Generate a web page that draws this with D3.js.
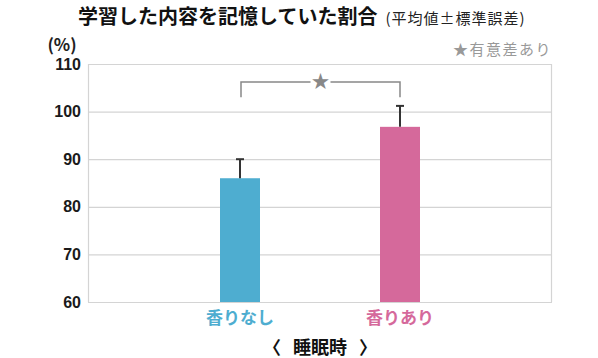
<!DOCTYPE html>
<html><head><meta charset="utf-8">
<script src="https://cdn.jsdelivr.net/npm/d3@7"></script>
<style>
body{margin:0;background:#fff;}
svg{display:block;font-family:"Noto Sans CJK JP","Noto Sans",sans-serif;}
</style></head>
<body><svg id="c" width="598" height="358"></svg>
<script>
const categories = ["香りなし","香りあり"];
const values = [86.0, 96.8];
const errors = [4.0, 4.4];
const yTicks = [60,70,80,90,100,110];
const barColors = ["#4eadd0","#d5699b"];
const bracketValue = 106.2;
const bracketLeg = 103.0;

const svg = d3.select("#c");
const m = {l:88, r:552, t:64, b:302};
const y = d3.scaleLinear().domain([60,110]).range([m.b, m.t]);
const x = d3.scalePoint().domain(categories).range([m.l, m.r]).padding(0.95);
const bw = 40;

// gridlines
svg.append("g").selectAll("line").data(yTicks).join("line")
  .attr("x1", m.l).attr("x2", m.r)
  .attr("y1", d=>y(d)+0.5).attr("y2", d=>y(d)+0.5)
  .attr("stroke", "#d4d4d4").attr("stroke-width", 1.2);
svg.append("line").attr("x1", m.l+0.5).attr("x2", m.l+0.5).attr("y1", m.t).attr("y2", m.b)
  .attr("stroke", "#d4d4d4").attr("stroke-width", 1.2);
svg.append("line").attr("x1", m.r-0.5).attr("x2", m.r-0.5).attr("y1", m.t).attr("y2", m.b)
  .attr("stroke", "#d4d4d4").attr("stroke-width", 1.2);

// y axis labels
const yAxis = d3.axisLeft(y).tickValues(yTicks).tickSize(0).tickPadding(7);
const ga = svg.append("g").attr("transform", `translate(${m.l},0)`).call(yAxis);
ga.select(".domain").remove();
ga.selectAll("text").attr("font-size", 16).attr("fill", "#1a1a1a")
  .attr("font-family", "Liberation Sans, Arial, sans-serif").attr("font-weight", "bold");

// bars
svg.append("g").selectAll("rect").data(categories).join("rect")
  .attr("x", d=>x(d)-bw/2).attr("width", bw)
  .attr("y", (d,i)=>y(values[i])).attr("height", (d,i)=>y(60)-y(values[i]))
  .attr("fill", (d,i)=>barColors[i]);

// error bars
const eg = svg.append("g").attr("stroke", "#333").attr("stroke-width", 2);
categories.forEach((c,i)=>{
  eg.append("line").attr("x1", x(c)).attr("x2", x(c))
    .attr("y1", y(values[i])).attr("y2", y(values[i]+errors[i]));
  eg.append("line").attr("x1", x(c)-4).attr("x2", x(c)+4)
    .attr("y1", y(values[i]+errors[i])).attr("y2", y(values[i]+errors[i]));
});

// significance bracket
const x0 = x(categories[0])+1, x1 = x(categories[1]);
const by = y(bracketValue), ly = y(bracketLeg);
const mid = (x0+x1)/2;
const bg = svg.append("g").attr("stroke", "#888").attr("stroke-width", 1.5).attr("fill","none");
bg.append("path").attr("d", `M${x0},${ly}V${by}H${mid-10}`);
bg.append("path").attr("d", `M${mid+10},${by}H${x1}V${ly}`);
svg.append("text").attr("x", mid).attr("y", by+6).attr("text-anchor","middle")
  .attr("font-size", 18).attr("fill","#888").text("★");

// titles
const t = svg.append("text").attr("x", 78).attr("y", 24).attr("text-anchor","start");
t.append("tspan").attr("font-size", 20).attr("font-weight","bold").attr("fill","#111").text("学習した内容を記憶していた割合");
t.append("tspan").attr("font-size", 15).attr("fill","#222").attr("dx", 8).attr("letter-spacing", 1).text("(平均値±標準誤差)");

svg.append("text").attr("x", 62).attr("y", 51).attr("text-anchor","middle")
  .attr("font-size", 17).attr("font-weight","bold").attr("fill","#222").text("(%)");
svg.append("text").attr("x", m.r).attr("y", 55).attr("text-anchor","end")
  .attr("font-size", 15).attr("letter-spacing", 1.5).attr("fill","#999").text("★有意差あり");

// category labels
svg.append("g").selectAll("text").data(categories).join("text")
  .attr("x", d=>x(d)).attr("y", 324).attr("text-anchor","middle")
  .attr("font-size", 17).attr("font-weight","bold")
  .attr("fill", (d,i)=>barColors[i]).text(d=>d);

const xt = svg.append("g").attr("font-size", 18).attr("font-weight","bold").attr("fill","#111").attr("text-anchor","middle");
xt.append("text").attr("x", 272).attr("y", 354).text("〈");
xt.append("text").attr("x", 320).attr("y", 354).text("睡眠時");
xt.append("text").attr("x", 368).attr("y", 354).text("〉");
</script></body></html>
